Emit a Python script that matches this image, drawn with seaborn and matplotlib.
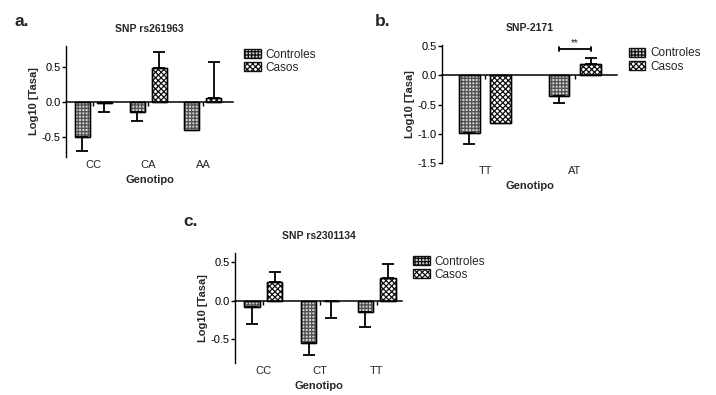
import numpy as np
import pandas as pd
import matplotlib
matplotlib.use("Agg")
import matplotlib.pyplot as plt
import seaborn as sns
from matplotlib.patches import Patch

sns.set_theme(style="ticks")
plt.rcParams['font.family'] = ['Liberation Sans', 'DejaVu Sans']
plt.rcParams['hatch.linewidth'] = 0.9

groups = ["Controles", "Casos"]

# Panel a
a_title = "SNP rs261963"
a_cats = ["CC", "CA", "AA"]
a_ctrl = [-0.50, -0.14, -0.40]
a_ctrl_err = [0.21, 0.13, 0.0]
a_case = [-0.02, 0.49, 0.05]
a_case_err = [0.12, 0.22, 0.52]

# Panel b
b_title = "SNP-2171"
b_cats = ["TT", "AT"]
b_ctrl = [-0.98, -0.35]
b_ctrl_err = [0.20, 0.12]
b_case = [-0.82, 0.20]
b_case_err = [0.0, 0.10]
b_sig_y = 0.45
b_sig_text = "**"

# Panel c
c_title = "SNP rs2301134"
c_cats = ["CC", "CT", "TT"]
c_ctrl = [-0.08, -0.55, -0.15]
c_ctrl_err = [0.22, 0.15, 0.19]
c_case = [0.24, -0.01, 0.30]
c_case_err = [0.13, 0.21, 0.18]

fig = plt.figure(figsize=(7.16, 3.95), dpi=100)

hatches = {"Controles": "+++++", "Casos": "xxxxxx"}
faces = {"Controles": "#cfcfcf", "Casos": "white"}
edges = {"Controles": "#505050", "Casos": "#111111"}


def style_patch(p, g):
    p.set_facecolor(faces[g])
    p.set_edgecolor(edges[g])
    p.set_hatch(hatches[g])
    p.set_linewidth(1.0)


def draw(rect, cats, ctrl, ctrl_err, case, case_err, title, ylim, yticks, xlim,
         width, gap, letter, letter_pos):
    ax = fig.add_axes(rect)
    df = pd.DataFrame({
        "Genotipo": cats * 2,
        "grupo": ["Controles"] * len(cats) + ["Casos"] * len(cats),
        "val": list(ctrl) + list(case),
        "err": list(ctrl_err) + list(case_err),
    })
    sns.barplot(data=df, x="Genotipo", y="val", hue="grupo", hue_order=groups,
                order=cats, errorbar=None, width=width, gap=gap, ax=ax,
                legend=False, palette=["#cfcfcf", "white"])
    # black outlines on top of the hatched fills
    sns.barplot(data=df, x="Genotipo", y="val", hue="grupo", hue_order=groups,
                order=cats, errorbar=None, width=width, gap=gap, ax=ax,
                legend=False, fill=False, palette=["black", "black"], linewidth=1.0)
    for cont, g in zip(ax.containers[:2], groups):
        sub = df[df.grupo == g]
        for bar, v, e in zip(cont, sub.val, sub.err):
            style_patch(bar, g)
            xc = bar.get_x() + bar.get_width() / 2
            if e > 0:
                yerr = [[e], [0]] if v < 0 else [[0], [e]]
                ax.errorbar([xc], [v], yerr=yerr, fmt="none", ecolor="black",
                            elinewidth=1.3, capsize=4, capthick=1.3)
    ax.set_ylim(*ylim)
    ax.set_yticks(yticks)
    ax.set_yticklabels([f"{t:.1f}" for t in yticks], fontsize=8)
    ax.set_xlim(*xlim)
    ax.tick_params(axis="y", length=3, width=1, pad=1, colors="black")
    # zero line = bottom spine moved to y=0, with small category ticks below it
    for s in ["top", "right"]:
        ax.spines[s].set_visible(False)
    ax.spines["bottom"].set_position(("data", 0))
    ax.spines["bottom"].set_linewidth(1.1)
    ax.spines["bottom"].set_color("black")
    ax.spines["bottom"].set_zorder(5)
    ax.spines["left"].set_linewidth(1.0)
    ax.spines["left"].set_color("black")
    ax.tick_params(axis="x", direction="out", length=3, width=1, colors="black",
                   labelbottom=False)
    ax.set_xlabel("")
    ax.set_ylabel("Log10 [Tasa]", fontsize=8, fontweight="bold", labelpad=2)
    # category labels at the bottom of the axes
    sec = ax.secondary_xaxis("bottom")
    sec.set_xticks(range(len(cats)))
    sec.set_xticklabels(cats)
    sec.tick_params(axis="x", length=0, labelsize=8, pad=2)
    sec.spines[:].set_visible(False)
    sec.set_xlabel("Genotipo", fontsize=8, fontweight="bold", labelpad=4)
    ax.set_title(title, fontsize=7.5, fontweight="bold", pad=10)
    handles = []
    for g in groups:
        h = Patch(label=g)
        style_patch(h, g)
        h.set_edgecolor("#111111")
        handles.append(h)
    ax.legend(handles=handles, loc="upper left", bbox_to_anchor=(1.04, 1.02),
              frameon=False, fontsize=8.5, handlelength=1.4, handleheight=0.8,
              handletextpad=0.4, labelspacing=0.1, borderaxespad=0)
    fig.text(letter_pos[0], letter_pos[1], letter, fontsize=12.5, fontweight="bold",
             ha="left", va="center")
    return ax


draw([66 / 716, 1 - 157 / 395, 167 / 716, 111 / 395], a_cats, a_ctrl, a_ctrl_err,
     a_case, a_case_err, a_title, (-0.79, 0.80), [-0.5, 0.0, 0.5], (-0.5, 2.55),
     0.8, 0.32, "a.", (15 / 716, 1 - 21 / 395))

axb = draw([442 / 716, 1 - 163 / 395, 175 / 716, 118 / 395], b_cats, b_ctrl, b_ctrl_err,
           b_case, b_case_err, b_title, (-1.5, 0.52), [-1.5, -1.0, -0.5, 0.0, 0.5],
           (-0.48, 1.47), 0.7, 0.34, "b.", (375 / 716, 1 - 21 / 395))
# significance bracket on AT
p1 = axb.containers[0][1]
p2 = axb.containers[1][1]
x1 = p1.get_x() + p1.get_width() / 2
x2 = p2.get_x() + p2.get_width() / 2
axb.plot([x1, x2], [b_sig_y, b_sig_y], color="black", lw=1.3)
axb.plot([x1, x1], [b_sig_y - 0.04, b_sig_y + 0.04], color="black", lw=1.3)
axb.plot([x2, x2], [b_sig_y - 0.04, b_sig_y + 0.04], color="black", lw=1.3)
axb.text((x1 + x2) / 2, b_sig_y + 0.02, b_sig_text, ha="center", va="bottom", fontsize=7)

draw([235 / 716, 1 - 363 / 395, 167 / 716, 110 / 395], c_cats, c_ctrl, c_ctrl_err,
     c_case, c_case_err, c_title, (-0.81, 0.62), [-0.5, 0.0, 0.5], (-0.5, 2.45),
     0.8, 0.32, "c.", (183 / 716, 1 - 222 / 395))

fig.savefig("out.png", dpi=100)
